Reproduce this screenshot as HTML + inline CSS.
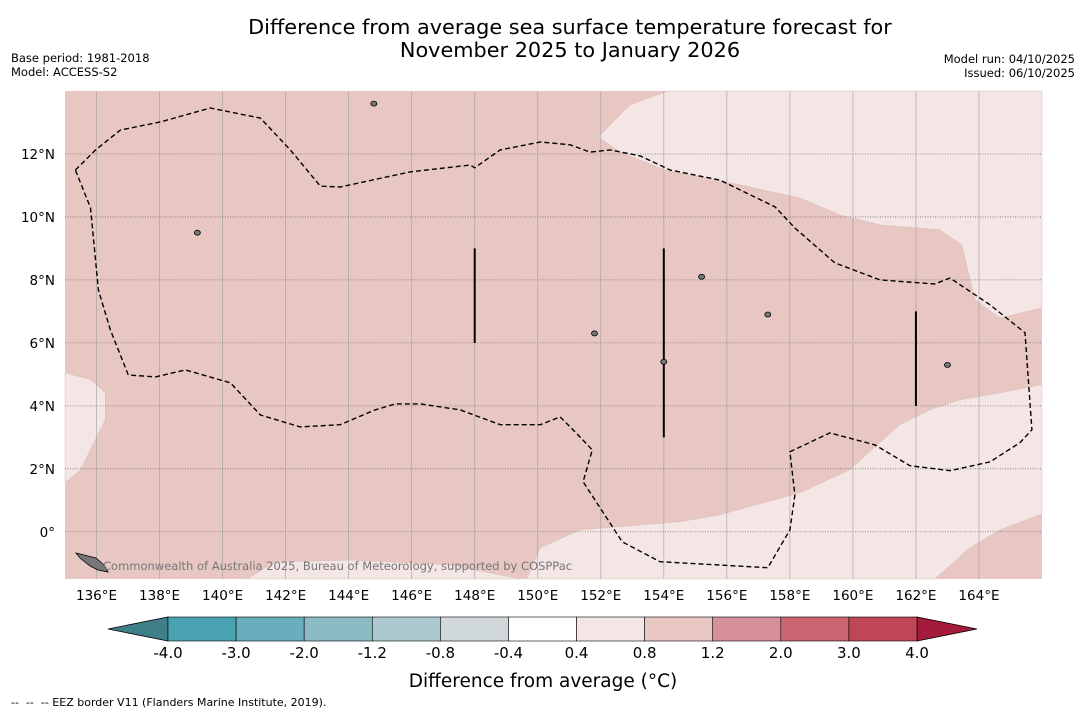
<!DOCTYPE html>
<html><head><meta charset="utf-8"><style>
body{margin:0;background:#fff;width:1085px;height:713px;overflow:hidden;font-family:"DejaVu Sans","Liberation Sans",sans-serif;}
svg{position:absolute;left:0;top:0}
</style></head><body>
<svg id="chart" width="1085" height="713">
<text x="570" y="34" text-anchor="middle" font-size="20.8">Difference from average sea surface temperature forecast for</text>
<text x="570" y="57" text-anchor="middle" font-size="20.8">November 2025 to January 2026</text>
<text x="11" y="62" font-size="11.5">Base period: 1981-2018</text>
<text x="11" y="76" font-size="11.5">Model: ACCESS-S2</text>
<text x="1075" y="63" font-size="11.5" text-anchor="end">Model run: 04/10/2025</text>
<text x="1075" y="77" font-size="11.5" text-anchor="end">Issued: 06/10/2025</text>
<g id="map"></g>
<g id="cbar"></g>
<text x="543" y="687" text-anchor="middle" font-size="18.5">Difference from average (°C)</text>
<text x="11" y="706" font-size="11" xml:space="preserve" style="white-space:pre">--  --  -- EEZ border V11 (Flanders Marine Institute, 2019).</text>
</svg>
<script>
const NS="http://www.w3.org/2000/svg";
const lonTicks=[136,138,140,142,144,146,148,150,152,154,156,158,160,162,164];
const latTicks=[0,2,4,6,8,10,12];
const cbLevels=[-4.0,-3.0,-2.0,-1.2,-0.8,-0.4,0.4,0.8,1.2,2.0,3.0,4.0];
const cbColors=["#4aa3b3","#6aadbc","#8bbac5","#abc9ce","#d0d8da","#ffffff","#f4e6e5","#e8c6c2","#d6909a","#ca6571","#bf4656"];
const lightTop=[[154.13,14],[152.93,13.56],[151.92,12.54],[152.61,12.06],[154.04,11.49],[156.42,11.02],[158.32,10.6],[159.59,10.06],[160.86,9.75],[162.76,9.59],[163.46,9.11],[163.87,7.37],[164.66,6.79],[166,7.11],[166,14]];
const lightLeft=[[135,5.05],[135.81,4.83],[136.28,4.41],[136.28,3.56],[135.49,1.97],[135,1.56]];
const lightBR=[[149.66,-1.5],[150.08,-0.51],[151.35,0.06],[154.52,0.32],[155.78,0.54],[158.32,1.24],[159.9,1.97],[161.49,3.4],[162.44,3.87],[163.39,4.19],[164.66,4.41],[166,4.67],[166,0.57],[164.66,0.06],[163.71,-0.51],[162.6,-1.5]];
const lightBL=[[140.78,-1.5],[141.67,-0.96],[144.05,-0.9],[147.22,-1.05],[149.44,-1.5]];
const eez=[[135.33,11.49],[135.97,12.13],[136.76,12.76],[138.03,13.02],[139.61,13.46],[141.2,13.14],[142.15,12.13],[143.1,10.98],[143.73,10.95],[145.95,11.43],[147.86,11.65],[148.0,11.56],[148.81,12.13],[150.08,12.38],[151.03,12.29],[151.66,12.06],[152.3,12.13],[153.25,11.94],[154.2,11.49],[155.78,11.17],[157.53,10.32],[158.16,9.65],[159.43,8.54],[160.86,8.0],[162.6,7.87],[163.08,8.06],[164.35,7.21],[165.46,6.32],[165.68,3.24],[165.3,2.83],[164.35,2.22],[163.08,1.94],[161.81,2.1],[160.7,2.76],[159.27,3.14],[158.0,2.54],[158.16,1.17],[158.0,0.06],[157.3,-1.14],[153.88,-0.95],[152.68,-0.32],[151.44,1.59],[151.73,2.6],[151.19,3.17],[150.71,3.65],[150.08,3.4],[148.81,3.4],[147.54,3.87],[146.27,4.06],[145.48,4.06],[144.84,3.87],[143.73,3.4],[142.46,3.33],[141.2,3.71],[140.25,4.73],[138.82,5.14],[137.87,4.92],[137.01,4.98],[136.44,6.41],[136.06,7.68],[135.81,10.29],[135.33,11.49]];
const segs=[[148,9,6],[154,9,3],[162,7,4]];
const islands=[[144.8,13.6],[139.2,9.5],[157.3,6.9],[155.2,8.1],[151.8,6.3],[163.0,5.3],[154.0,5.4]];
const lonMin=135,lonMax=166,latMin=-1.5,latMax=14;
const X0=65,X1=1042,Y0=91,Y1=579;
const xS=l=>X0+(l-lonMin)/(lonMax-lonMin)*(X1-X0);
const yS=l=>Y0+(latMax-l)/(latMax-latMin)*(Y1-Y0);
function mk(tag,attrs,parent){const e=document.createElementNS(NS,tag);for(const k in attrs)e.setAttribute(k,attrs[k]);parent.appendChild(e);return e;}
const map=document.getElementById('map');
const bg=mk('rect',{x:X0,y:Y0,width:X1-X0,height:Y1-Y0,fill:'#e8c6c2'},map);


const pts=a=>a.map(p=>xS(p[0]).toFixed(1)+','+yS(p[1]).toFixed(1)).join(' ');
[['anomaly-region-top-right',lightTop],['anomaly-region-left',lightLeft],['anomaly-region-bottom-right',lightBR],['anomaly-region-bottom-left',lightBL]].forEach(([n,a])=>{
 const p=mk('polygon',{points:pts(a),fill:'#f4e6e5',stroke:'#d8c0bd','stroke-width':0.5},map);
 
 
});
lonTicks.forEach(l=>{
 const g=mk('line',{x1:xS(l),x2:xS(l),y1:Y0,y2:Y1,stroke:'#999','stroke-width':0.8,opacity:0.7},map);
 
 
 const t=mk('text',{x:xS(l),y:600,'text-anchor':'middle','font-size':13.5},map);
 t.textContent=l+'°E';
 
 
});
latTicks.forEach(l=>{
 const g=mk('line',{x1:X0,x2:X1,y1:yS(l),y2:yS(l),stroke:'#777','stroke-width':0.8,'stroke-dasharray':'1,1.5'},map);
 
 
 const t=mk('text',{x:55,y:yS(l)+5,'text-anchor':'end','font-size':13.5},map);
 t.textContent=l===0?'0°':l+'°N';
 
 
});
const e=mk('polyline',{points:pts(eez),fill:'none',stroke:'#000','stroke-width':1.4,'stroke-dasharray':'5,3'},map);


segs.forEach(s=>{
 const l=mk('line',{x1:xS(s[0]),x2:xS(s[0]),y1:yS(s[1]),y2:yS(s[2]),stroke:'#000','stroke-width':2},map);
 
 
});
islands.forEach(p=>{
 const c=mk('ellipse',{cx:xS(p[0]),cy:yS(p[1]),rx:3,ry:2.5,fill:'#777',stroke:'#000','stroke-width':0.8},map);
 
 
});
const isl=mk('polygon',{points:'76,553 88,556 96,558 104,565 108,572 98,570 90,566 80,558',fill:'#777',stroke:'#000','stroke-width':0.8},map);


const cr=mk('text',{x:103,y:570,'font-size':11.5,fill:'#777'},map);
cr.textContent='Commonwealth of Australia 2025, Bureau of Meteorology, supported by COSPPac';


const cb=document.getElementById('cbar');
const C0=168,C1=917,CT=617,CB=641;
const bw=(C1-C0)/cbColors.length;
const lt=mk('polygon',{points:`${C0},${CT} ${C0},${CB} 108,629`,fill:'#3f7f8a',stroke:'#000','stroke-width':0.8},cb);


const rt=mk('polygon',{points:`${C1},${CT} ${C1},${CB} 977,629`,fill:'#a51b3c',stroke:'#000','stroke-width':0.8},cb);


cbColors.forEach((c,i)=>{
 const r=mk('rect',{x:C0+i*bw,y:CT,width:bw,height:CB-CT,fill:c,stroke:'#000','stroke-width':0.6},cb);
 
 
});
cbLevels.forEach((v,i)=>{
 const t=mk('text',{x:C0+i*bw,y:658,'text-anchor':'middle','font-size':15},cb);
 t.textContent=v.toFixed(1);
 
 
});
</script>
</body></html>
